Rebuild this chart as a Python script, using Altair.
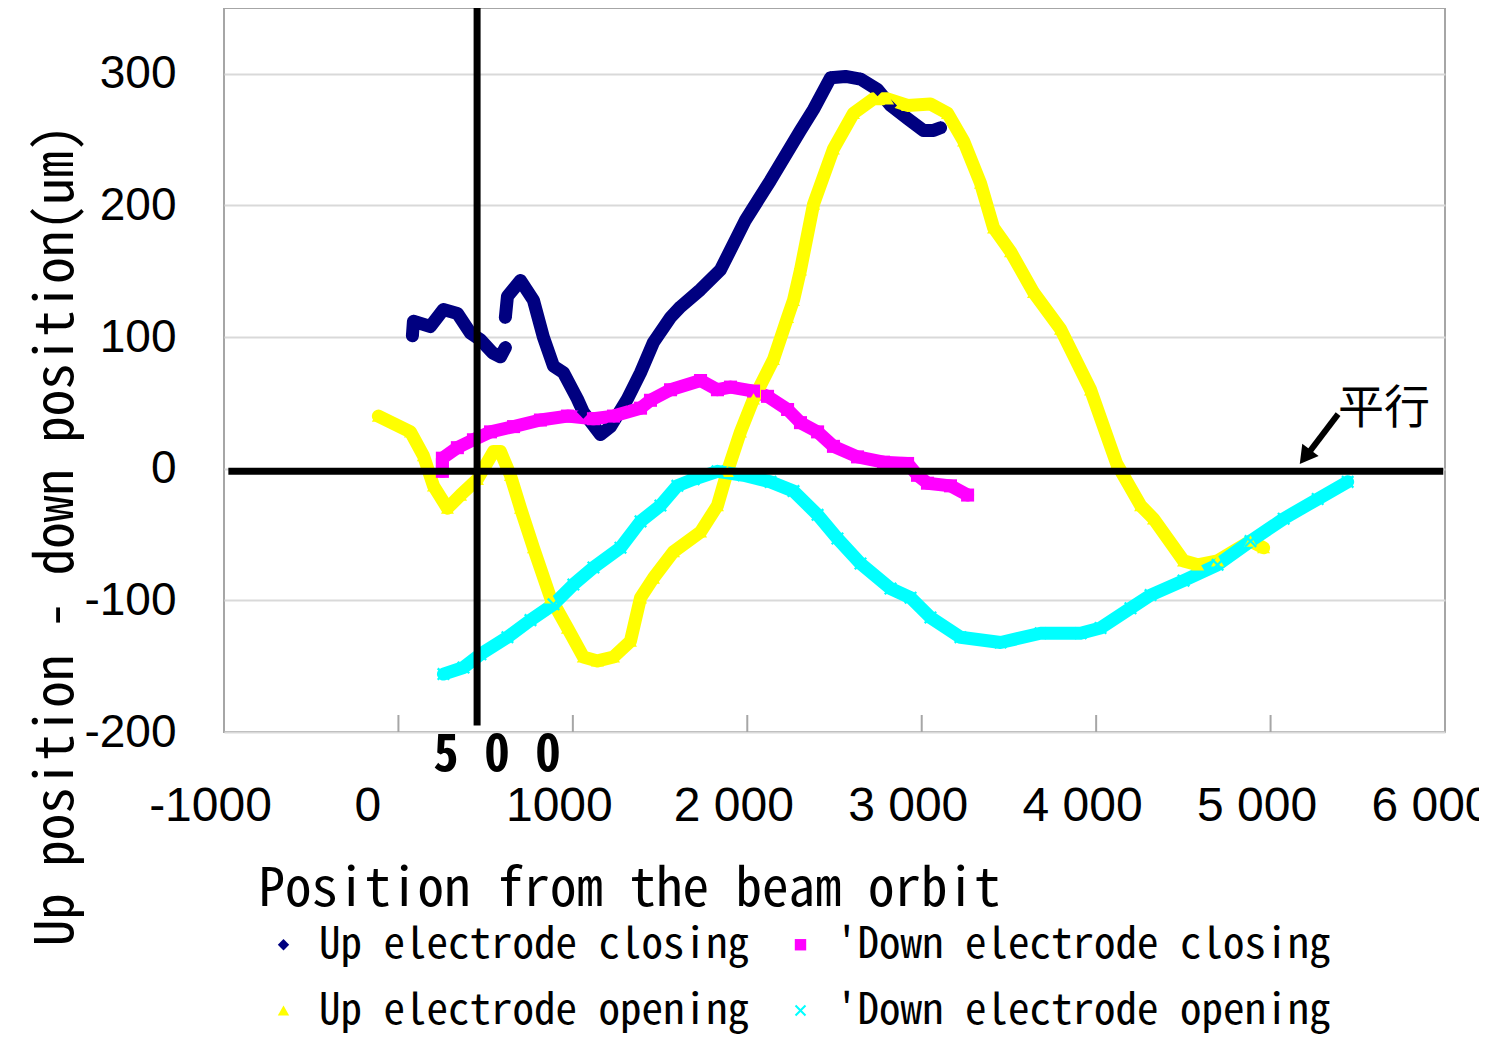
import altair as alt
import pandas as pd

# ---------------- data ----------------
series_names = ["Up electrode closing", "Down electrode closing",
                "Up electrode opening", "Down electrode opening"]
series_colors = ["#000080", "#FF00FF", "#FFFF00", "#00FFFF"]
series_shapes = ["diamond", "square", "triangle-up",
                 "M-1,-0.75L-0.75,-1L0,-0.25L0.75,-1L1,-0.75L0.25,0L1,0.75L0.75,1L0,0.25L-0.75,1L-1,0.75L-0.25,0Z"]

# Up electrode closing (two pieces)
upc_a_x = [80, 86, 183, 258, 338, 413, 470, 540, 585, 613]
upc_a_y = [101, 112, 108, 121, 118, 103, 98, 88, 85, 92]
upc_b_x = [613, 625, 700, 774, 831, 889, 946, 1026, 1060, 1158, 1216, 1313, 1388, 1462,
           1560, 1617, 1731, 1846, 1990, 2133, 2305, 2380, 2477, 2563, 2649, 2747, 2821,
           2919, 3010, 3068, 3108]
upc_b_y = [115, 131, 143, 128, 100, 78, 73, 53, 43, 26, 32, 53, 73, 96,
           115, 123, 136, 151, 189, 219, 257, 273, 297, 298, 296, 288, 276,
           266, 257, 257, 259]

# Down electrode closing
dnc_x = [252, 252, 338, 430, 528, 660, 814, 969, 1118, 1233, 1388, 1445, 1560, 1732, 1829,
         1904, 2036, 2116, 2231, 2305, 2403, 2494, 2632, 2781, 2919, 2976, 3033, 3165, 3263]
dnc_y = [-2, 8, 16, 22, 28, 32, 37, 40, 38, 40, 46, 52, 60, 67, 60,
         62, 59, 55, 45, 35, 28, 17, 9, 5, 4, -5, -11, -13, -20]

# Up electrode opening
upo_x = [-115, 69, 143, 201, 281, 356, 453, 545, 585, 642, 700, 774, 872, 969, 1060, 1141,
         1233, 1330, 1388, 1462, 1577, 1732, 1829, 1886, 1961, 2036, 2150, 2231, 2265, 2305,
         2380, 2494, 2609, 2724, 2804, 2919, 3050, 3148, 3240, 3337, 3412, 3509, 3641, 3796,
         3968, 4117, 4255, 4329, 4501, 4582, 4696, 4885, 4960]
upo_y = [40, 28, 10, -13, -30, -20, -8, 13, 13, -5, -30, -60, -98, -121, -143, -146,
         -143, -131, -98, -83, -63, -48, -28, -2, 28, 53, 83, 115, 128, 151,
         201, 243, 270, 281, 281, 276, 277, 270, 249, 217, 183, 165, 134, 106,
         60, 4, -28, -38, -70, -73, -70, -55, -60]

# Down electrode opening
dno_x = [258, 373, 470, 625, 757, 889, 1003, 1118, 1273, 1388, 1502, 1599, 1692, 1829, 1978,
         2133, 2265, 2403, 2517, 2649, 2821, 2936, 3050, 3222, 3452, 3681, 3911, 4025, 4197,
         4312, 4501, 4696, 4885, 5075, 5270, 5442]
dno_y = [-156, -151, -141, -128, -115, -103, -88, -75, -60, -40, -28, -13, -8, -2, -5,
         -10, -17, -35, -53, -72, -91, -98, -113, -128, -132, -125, -125, -121, -106,
         -96, -85, -73, -55, -38, -23, -10]

# axis ticks
x_tick_values = [-1000, 0, 1000, 2000, 3000, 4000, 5000, 6000]
x_tick_labels = ["-1000", "0", "1000", "2 000", "3 000", "4 000", "5 000", "6 000"]
x_minor_ticks = [0, 1000, 2000, 3000, 4000, 5000]
y_tick_values = [-200, -100, 0, 100, 200, 300]
y_tick_labels = ["-200", "-100", "0", "100", "200", "300"]

# reference lines and annotations
vline_x = [451]
vline_y = [350]
vline_y2 = [-195]
hline_x = [-975]
hline_x2 = [5990]
hline_y = [-2]
label500_x = [565]
label500_y = [-218]
label500_text = ["5 0 0"]
parallel_x = [5651]
parallel_y = [45]
parallel_text = ["平行"]
arrow_x = [5387]
arrow_y = [41.5]
arrow_x2 = [5227]
arrow_y2 = [13.6]
arrowhead_x = [5198]
arrowhead_y = [9]

# ---------------- build tables ----------------
rows = []
def add(series, seg, xs, ys):
    for i, (xv, yv) in enumerate(zip(xs, ys)):
        rows.append({"series": series, "seg": seg, "x": xv, "y": yv, "idx": i})

add(series_names[0], "a0", upc_a_x, upc_a_y)
add(series_names[0], "a1", upc_b_x, upc_b_y)
add(series_names[1], "b0", dnc_x, dnc_y)
add(series_names[2], "c0", upo_x, upo_y)
add(series_names[3], "d0", dno_x, dno_y)
df = pd.DataFrame(rows)

W, H = 1221, 724
MONO = "Noto Sans Mono CJK JP, Noto Sans Mono CJK SC, DejaVu Sans Mono, monospace"
NUM = "Liberation Sans, Arial, sans-serif"

def label_expr(values, labels):
    expr = "''"
    for v, l in reversed(list(zip(values, labels))):
        expr = f"datum.value == {v} ? '{l}' : " + expr
    return expr

x_scale = alt.Scale(domain=[-1000, 6000], nice=False, zero=False)
y_scale = alt.Scale(domain=[-200, 350], nice=False, zero=False)

x_enc = alt.X("x:Q", scale=x_scale, axis=alt.Axis(
    values=x_tick_values, labelExpr=label_expr(x_tick_values, x_tick_labels),
    title="Position from the beam orbit", grid=False, ticks=False, domain=False,
    labelFont=NUM, labelFontSize=48, labelColor="black", labelPadding=50,
    labelBaseline="top", labelFlush=False, labelOverlap=False,
    labelOffset={"condition": {"test": "datum.value == 0", "value": -31}, "value": -14},
    titleFont=MONO, titleFontSize=53, titleFontWeight="normal", titleColor="black",
    titleAnchor="start", titleAlign="left", titleX=34, titleY=173,
    titleBaseline="alphabetic"))
y_enc = alt.Y("y:Q", scale=y_scale, axis=alt.Axis(
    values=y_tick_values, labelExpr=label_expr(y_tick_values, y_tick_labels),
    title="Up position - down position(um)", grid=True, gridColor="#d9d9d9",
    gridWidth=2, ticks=False, domain=False,
    labelFont=NUM, labelFontSize=46, labelColor="black", labelPadding=48,
    labelFlush=False, labelOverlap=False,
    titleFont=MONO, titleFontSize=53, titleFontWeight="normal", titleColor="black",
    titleAngle=270, titleAlign="center", titleX=-152, titleY=527,
    titleBaseline="alphabetic"))

color_scale = alt.Scale(domain=series_names, range=series_colors)
shape_scale = alt.Scale(domain=series_names, range=series_shapes)

legend = alt.Legend(
    title=None, orient="none", legendX=22, legendY=899, columns=2,
    direction="horizontal",
    labelExpr="indexof(datum.label, 'Down') == 0 ? \"'\" + datum.label : datum.label",
    labelFont=MONO, labelFontSize=43, labelColor="black", labelLimit=800,
    labelOffset=14, symbolSize=130, symbolStrokeWidth=0,
    columnPadding=30, rowPadding=22, padding=16)

lines = alt.Chart(df).mark_line(strokeJoin="round", strokeCap="round", strokeWidth=13).encode(
    x=x_enc, y=y_enc,
    color=alt.Color("series:N", scale=color_scale, legend=None),
    detail="seg:N",
    order="idx:Q")

points = alt.Chart(df).mark_point(filled=True, opacity=1, strokeWidth=0).encode(
    x="x:Q", y="y:Q",
    color=alt.Color("series:N", scale=color_scale, legend=legend, sort=series_names),
    shape=alt.Shape("series:N", scale=shape_scale, legend=legend, sort=series_names),
    size=alt.value(170))

ticks = alt.Chart(pd.DataFrame({"t": x_minor_ticks})).mark_rule(
    color="#a6a6a6", strokeWidth=2).encode(
    x="t:Q", y=alt.value(H - 17), y2=alt.value(H))

vline = alt.Chart(pd.DataFrame({"x": vline_x, "y": vline_y, "y2": vline_y2})).mark_rule(
    color="black", strokeWidth=7).encode(x="x:Q", y="y:Q", y2="y2:Q")

hline = alt.Chart(pd.DataFrame({"x": hline_x, "x2": hline_x2, "y": hline_y})).mark_rule(
    color="black", strokeWidth=7).encode(x="x:Q", x2="x2:Q", y="y:Q")

lbl500 = alt.Chart(pd.DataFrame({"x": label500_x, "y": label500_y, "t": label500_text})).mark_text(
    font=MONO, fontSize=51, fontWeight="bold", color="black", align="center",
    baseline="middle").encode(x="x:Q", y="y:Q", text="t:N")

parallel = alt.Chart(pd.DataFrame({"x": parallel_x, "y": parallel_y, "t": parallel_text})).mark_text(
    font="Noto Sans CJK JP", fontSize=46, color="black", align="center",
    baseline="middle").encode(x="x:Q", y="y:Q", text="t:N")

arrow = alt.Chart(pd.DataFrame({"x": arrow_x, "y": arrow_y, "x2": arrow_x2, "y2": arrow_y2})).mark_rule(
    color="black", strokeWidth=6).encode(x="x:Q", y="y:Q", x2="x2:Q", y2="y2:Q")

arrowhead = alt.Chart(pd.DataFrame({"x": arrowhead_x, "y": arrowhead_y})).mark_point(
    shape="triangle-up", filled=True, color="black", opacity=1, size=420, angle=217).encode(
    x="x:Q", y="y:Q")

chart = alt.layer(ticks, lines, points, vline, hline, lbl500, parallel, arrow, arrowhead).resolve_legend(
    color="independent", shape="independent"
).properties(
    width=W, height=H,
    autosize=alt.AutoSizeParams(type="none"),
    padding={"left": 216, "top": 0, "right": 34, "bottom": 308},
    background="white",
).configure_view(stroke="#a6a6a6", strokeWidth=2)

chart.save("out.html", embed_options={"renderer": "svg", "actions": False})
